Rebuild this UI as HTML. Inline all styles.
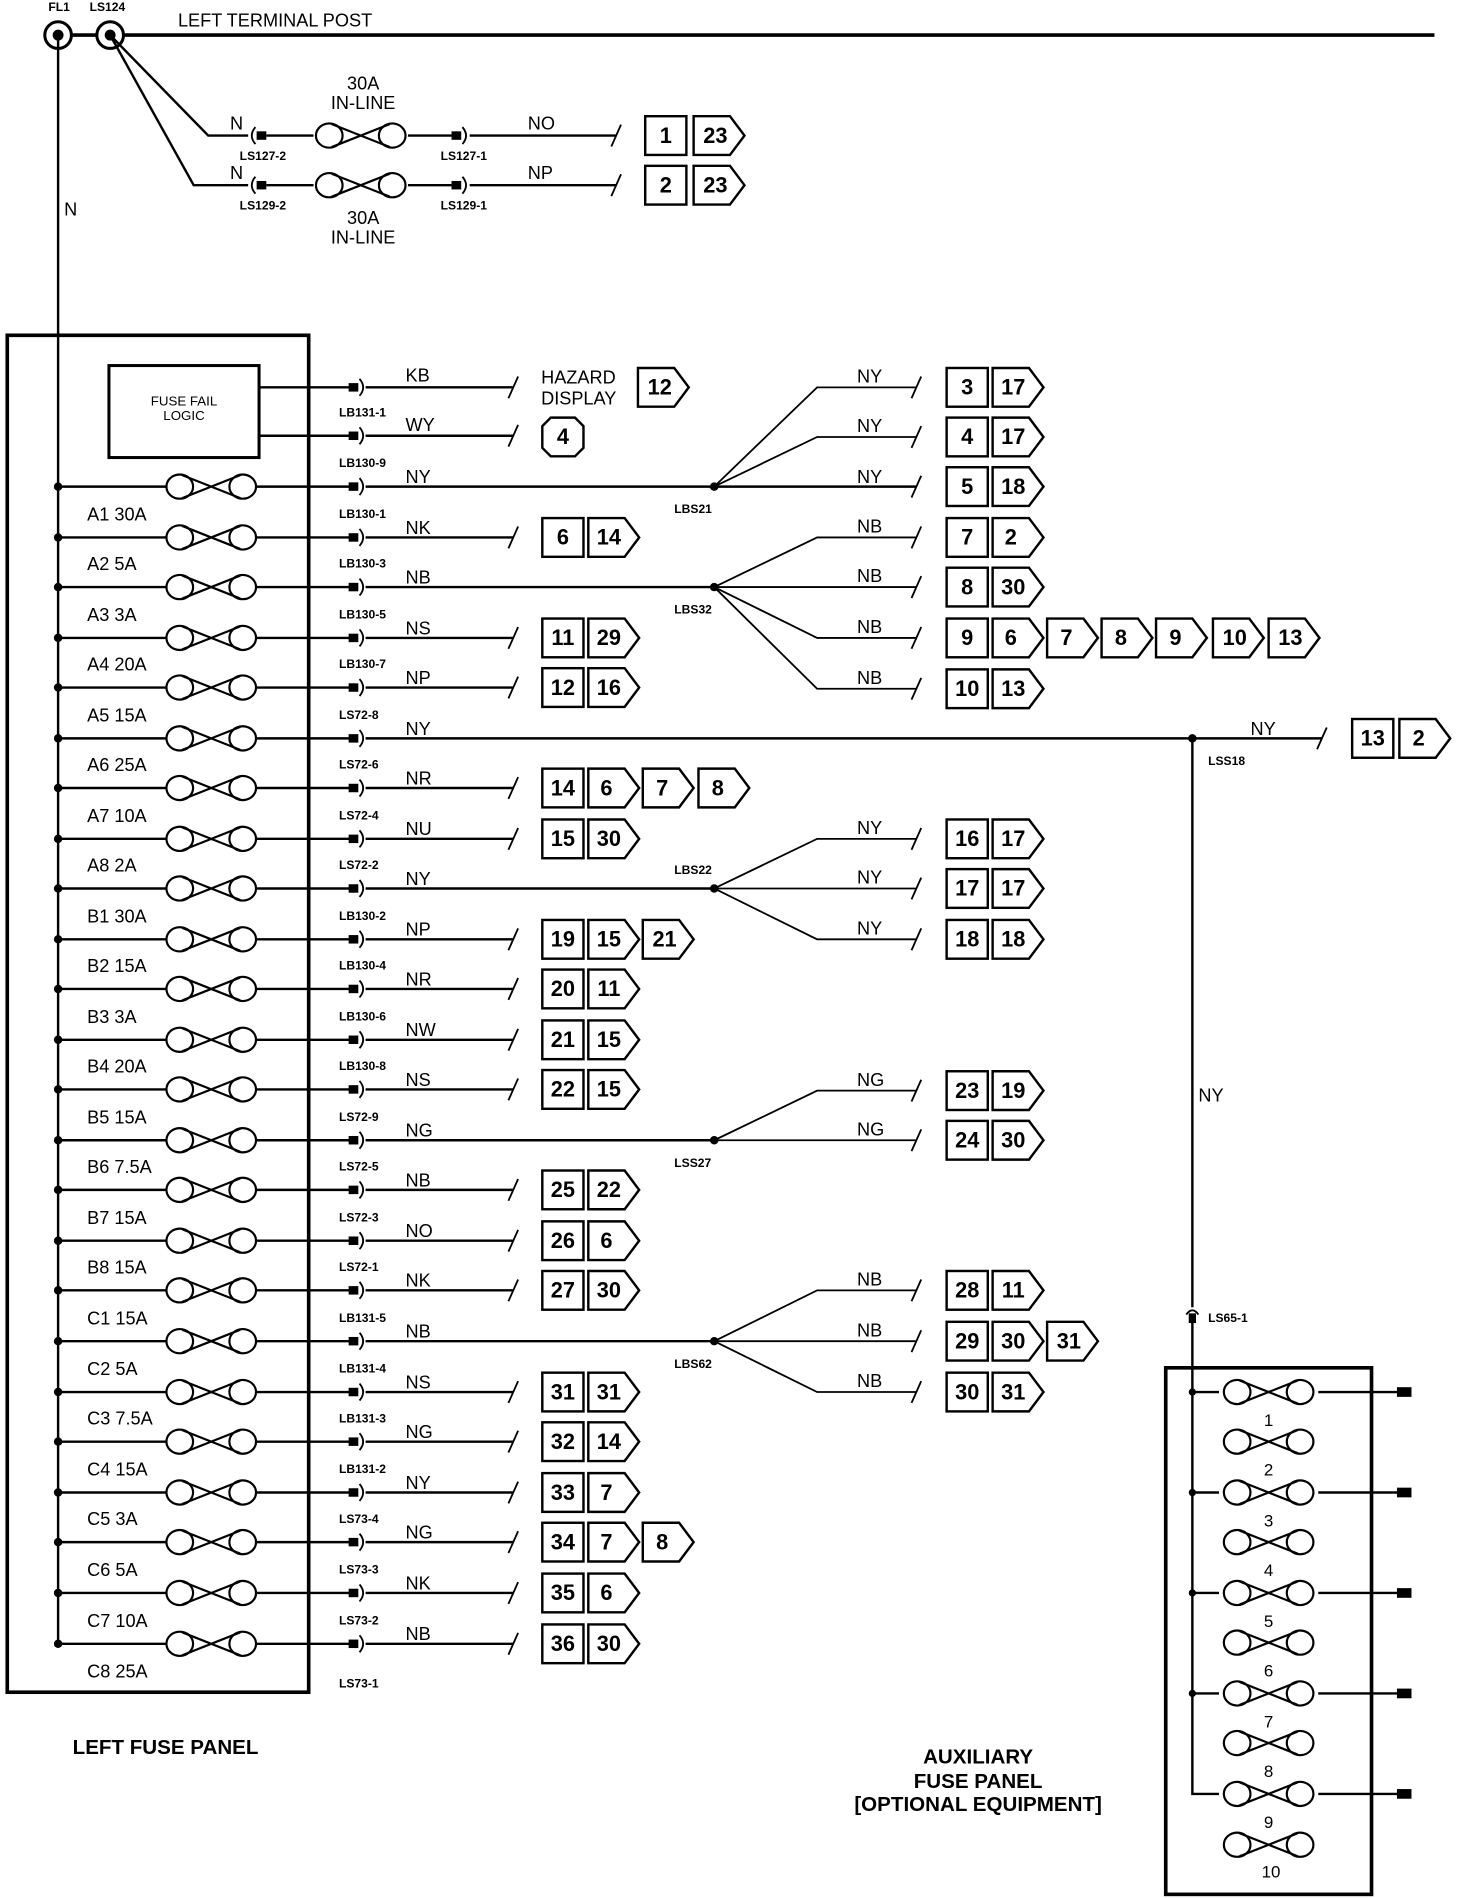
<!DOCTYPE html>
<html><head><meta charset="utf-8"><style>
html,body{margin:0;padding:0;background:#fff}
svg{display:block}
text{font-family:"Liberation Sans",sans-serif;fill:#000}
.w{font-size:15px}
.c{font-size:10px;font-weight:bold}
.b{font-size:18px;font-weight:bold;text-anchor:middle}
.l{font-size:15px}
</style></head><body>
<svg width="1472" height="1898" viewBox="0 0 1216 1568" preserveAspectRatio="none" xmlns="http://www.w3.org/2000/svg">
<defs>
<g id="f" fill="none" stroke="#000" stroke-width="1.8"><ellipse cx="-26" cy="0" rx="11" ry="10"/><ellipse cx="26" cy="0" rx="11" ry="10"/><path d="M-24,-9.5L24,9.5M-24,9.5L24,-9.5"/></g>
<g id="r" stroke="#000" stroke-width="2"><circle cx="48" cy="0" r="2.5" fill="#000"/><line x1="48" y1="0" x2="137" y2="0"/><use href="#f" x="174.5"/><line x1="212" y1="0" x2="289" y2="0"/><rect x="288" y="-3.5" width="8" height="7" fill="#000" stroke="none"/><path d="M297,-7Q303,0 297,7" fill="none" stroke-width="1.5"/></g>
<path id="a" d="M0,-16h30l12,16l-12,16h-30z" fill="#fff" stroke="#000" stroke-width="2"/>
<rect id="s" x="0" y="-16" width="34" height="32" fill="#fff" stroke="#000" stroke-width="2"/>
<path id="sl" d="M-4,9L4,-9" stroke="#000" stroke-width="1.5"/>
<g id="af" stroke="#000" stroke-width="2"><use href="#f" x="1048"/></g>
</defs>

<text x="40" y="9" class="c">FL1</text><text x="74" y="9" class="c">LS124</text>
<text x="147" y="22" class="l">LEFT TERMINAL POST</text>
<circle cx="48" cy="29" r="11" fill="none" stroke="#000" stroke-width="2.5"/><circle cx="48" cy="29" r="4.5"/>
<circle cx="91" cy="29" r="11" fill="none" stroke="#000" stroke-width="2.5"/><circle cx="91" cy="29" r="4.5"/>
<g stroke="#000" fill="none">
<line x1="59" y1="29" x2="80" y2="29" stroke-width="3"/>
<line x1="102" y1="29" x2="1185" y2="29" stroke-width="3"/>
<line x1="48" y1="29" x2="48" y2="1358" stroke-width="2"/>
<polyline points="91,29 172,112 205,112" stroke-width="2"/>
<polyline points="91,29 160,153 205,153" stroke-width="2"/>
</g>
<text x="53" y="178" class="w">N</text>
<g transform="translate(0,112)">
<path d="M211,-7Q205,0 211,7" fill="none" stroke="#000" stroke-width="1.5"/><rect x="212" y="-3.5" width="8" height="7"/>
<line x1="220" y1="0" x2="259" y2="0" stroke="#000" stroke-width="2"/><use href="#f" x="298"/>
<line x1="337" y1="0" x2="373" y2="0" stroke="#000" stroke-width="2"/><rect x="373" y="-3.5" width="8" height="7"/>
<path d="M382,-7Q388,0 382,7" fill="none" stroke="#000" stroke-width="1.5"/>
<line x1="388" y1="0" x2="509" y2="0" stroke="#000" stroke-width="2"/><use href="#sl" x="509"/>
<text x="190" y="-5" class="w">N</text><text x="436" y="-5" class="w">NO</text>
<text x="198" y="20" class="c">LS127-2</text><text x="364" y="20" class="c">LS127-1</text>
<use href="#s" x="533"/><text x="550" y="6" class="b">1</text><use href="#a" x="573"/><text x="591" y="6" class="b">23</text>
</g>
<g transform="translate(0,153)">
<path d="M211,-7Q205,0 211,7" fill="none" stroke="#000" stroke-width="1.5"/><rect x="212" y="-3.5" width="8" height="7"/>
<line x1="220" y1="0" x2="259" y2="0" stroke="#000" stroke-width="2"/><use href="#f" x="298"/>
<line x1="337" y1="0" x2="373" y2="0" stroke="#000" stroke-width="2"/><rect x="373" y="-3.5" width="8" height="7"/>
<path d="M382,-7Q388,0 382,7" fill="none" stroke="#000" stroke-width="1.5"/>
<line x1="388" y1="0" x2="509" y2="0" stroke="#000" stroke-width="2"/><use href="#sl" x="509"/>
<text x="190" y="-5" class="w">N</text><text x="436" y="-5" class="w">NP</text>
<text x="198" y="20" class="c">LS129-2</text><text x="364" y="20" class="c">LS129-1</text>
<use href="#s" x="533"/><text x="550" y="6" class="b">2</text><use href="#a" x="573"/><text x="591" y="6" class="b">23</text>
</g>
<text x="300" y="74" class="l" text-anchor="middle">30A</text><text x="300" y="90" class="l" text-anchor="middle">IN-LINE</text>
<text x="300" y="185" class="l" text-anchor="middle">30A</text><text x="300" y="201" class="l" text-anchor="middle">IN-LINE</text>

<rect x="6" y="277" width="249" height="1121" fill="none" stroke="#000" stroke-width="3"/>
<rect x="90" y="302" width="124" height="76" fill="none" stroke="#000" stroke-width="2.5"/>
<text x="152" y="335" font-size="11" text-anchor="middle">FUSE FAIL</text><text x="152" y="347" font-size="11" text-anchor="middle">LOGIC</text>
<g stroke="#000" stroke-width="2" fill="none">
<line x1="214" y1="320" x2="289" y2="320"/><line x1="214" y1="360" x2="289" y2="360"/>
<line x1="302" y1="320" x2="424" y2="320"/><line x1="302" y1="360" x2="424" y2="360"/>
</g>
<rect x="288" y="316.5" width="8" height="7"/><path d="M297,313Q303,320 297,327" fill="none" stroke="#000" stroke-width="1.5"/>
<rect x="288" y="356.5" width="8" height="7"/><path d="M297,353Q303,360 297,367" fill="none" stroke="#000" stroke-width="1.5"/>
<use href="#sl" x="424" y="320"/><use href="#sl" x="424" y="360"/>
<text x="335" y="315" class="w">KB</text><text x="335" y="356" class="w">WY</text>
<text x="280" y="344" class="c">LB131-1</text>
<text x="447" y="317" class="l">HAZARD</text><text x="447" y="334" class="l">DISPLAY</text>
<use href="#a" x="527" y="320"/><text x="545" y="326" class="b">12</text>
<path d="M455,345h20l7,7v18l-7,7h-20l-7,-7v-18z" fill="none" stroke="#000" stroke-width="2"/><text x="465" y="367" class="b">4</text>

<g transform="translate(0,402)"><use href="#r"/><text x="280" y="-16" class="c">LB130-9</text><text x="335" y="-3" class="w">NY</text>
<line x1="302" y1="0" x2="757" y2="0" stroke="#000" stroke-width="2"/><circle cx="590" cy="0" r="3.5"/><text x="557" y="22" class="c">LBS21</text>
<polyline points="590,0 675,-82 757,-82" fill="none" stroke="#000" stroke-width="1.5"/><polyline points="590,0 675,-41 757,-41" fill="none" stroke="#000" stroke-width="1.5"/>
<use href="#sl" x="757" y="-82"/><use href="#sl" x="757" y="-41"/><use href="#sl" x="757"/>
<text x="708" y="-86" class="w">NY</text><text x="708" y="-45" class="w">NY</text><text x="708" y="-3" class="w">NY</text>
<use href="#s" x="782" y="-82"/><text x="799" y="-76" class="b">3</text><use href="#a" x="820" y="-82"/><text x="837" y="-76" class="b">17</text>
<use href="#s" x="782" y="-41"/><text x="799" y="-35" class="b">4</text><use href="#a" x="820" y="-41"/><text x="837" y="-35" class="b">17</text>
<use href="#s" x="782"/><text x="799" y="6" class="b">5</text><use href="#a" x="820"/><text x="837" y="6" class="b">18</text>
</g>
<g transform="translate(0,444)"><use href="#r"/><text x="72" y="-14" class="l">A1 30A</text><text x="280" y="-16" class="c">LB130-1</text><text x="335" y="-3" class="w">NK</text>
<line x1="302" y1="0" x2="424" y2="0" stroke="#000" stroke-width="2"/><use href="#sl" x="424"/>
<use href="#s" x="448"/><text x="465" y="6" class="b">6</text><use href="#a" x="486"/><text x="503" y="6" class="b">14</text></g>
<g transform="translate(0,485)"><use href="#r"/><text x="72" y="-14" class="l">A2 5A</text><text x="280" y="-16" class="c">LB130-3</text><text x="335" y="-3" class="w">NB</text>
<line x1="302" y1="0" x2="590" y2="0" stroke="#000" stroke-width="2"/><circle cx="590" cy="0" r="3.5"/><text x="557" y="22" class="c">LBS32</text>
<g fill="none" stroke="#000" stroke-width="1.5"><polyline points="590,0 675,-41 757,-41"/><polyline points="590,0 675,0 757,0"/><polyline points="590,0 675,42 757,42"/><polyline points="590,0 675,84 757,84"/></g>
<use href="#sl" x="757" y="-41"/><use href="#sl" x="757"/><use href="#sl" x="757" y="42"/><use href="#sl" x="757" y="84"/>
<text x="708" y="-45" class="w">NB</text><text x="708" y="-4" class="w">NB</text><text x="708" y="38" class="w">NB</text><text x="708" y="80" class="w">NB</text>
<use href="#s" x="782" y="-41"/><text x="799" y="-35" class="b">7</text><use href="#a" x="820" y="-41"/><text x="835" y="-35" class="b">2</text>
<use href="#s" x="782"/><text x="799" y="6" class="b">8</text><use href="#a" x="820"/><text x="837" y="6" class="b">30</text>
<use href="#s" x="782" y="42"/><text x="799" y="48" class="b">9</text><use href="#a" x="820" y="42"/><text x="835" y="48" class="b">6</text>
<use href="#a" x="865" y="42"/><text x="881" y="48" class="b">7</text><use href="#a" x="910" y="42"/><text x="926" y="48" class="b">8</text>
<use href="#a" x="955" y="42"/><text x="971" y="48" class="b">9</text><use href="#a" x="1002" y="42"/><text x="1020" y="48" class="b">10</text>
<use href="#a" x="1048" y="42"/><text x="1066" y="48" class="b">13</text>
<use href="#s" x="782" y="84"/><text x="799" y="90" class="b">10</text><use href="#a" x="820" y="84"/><text x="837" y="90" class="b">13</text>
</g>
<g transform="translate(0,527)"><use href="#r"/><text x="72" y="-14" class="l">A3 3A</text><text x="280" y="-16" class="c">LB130-5</text><text x="335" y="-3" class="w">NS</text>
<line x1="302" y1="0" x2="424" y2="0" stroke="#000" stroke-width="2"/><use href="#sl" x="424"/>
<use href="#s" x="448"/><text x="465" y="6" class="b">11</text><use href="#a" x="486"/><text x="503" y="6" class="b">29</text></g>
<g transform="translate(0,568)"><use href="#r"/><text x="72" y="-14" class="l">A4 20A</text><text x="280" y="-16" class="c">LB130-7</text><text x="335" y="-3" class="w">NP</text>
<line x1="302" y1="0" x2="424" y2="0" stroke="#000" stroke-width="2"/><use href="#sl" x="424"/>
<use href="#s" x="448"/><text x="465" y="6" class="b">12</text><use href="#a" x="486"/><text x="503" y="6" class="b">16</text></g>
<g transform="translate(0,610)"><use href="#r"/><text x="72" y="-14" class="l">A5 15A</text><text x="280" y="-16" class="c">LS72-8</text><text x="335" y="-3" class="w">NY</text>
<line x1="302" y1="0" x2="1092" y2="0" stroke="#000" stroke-width="2"/><use href="#sl" x="1092"/><circle cx="985" cy="0" r="3.5"/><text x="998" y="22" class="c">LSS18</text>
<text x="1033" y="-3" class="w">NY</text>
<use href="#s" x="1117"/><text x="1134" y="6" class="b">13</text><use href="#a" x="1156"/><text x="1172" y="6" class="b">2</text></g>
<g transform="translate(0,651)"><use href="#r"/><text x="72" y="-14" class="l">A6 25A</text><text x="280" y="-16" class="c">LS72-6</text><text x="335" y="-3" class="w">NR</text>
<line x1="302" y1="0" x2="424" y2="0" stroke="#000" stroke-width="2"/><use href="#sl" x="424"/>
<use href="#s" x="448"/><text x="465" y="6" class="b">14</text><use href="#a" x="486"/><text x="501" y="6" class="b">6</text>
<use href="#a" x="531"/><text x="547" y="6" class="b">7</text><use href="#a" x="577"/><text x="593" y="6" class="b">8</text></g>
<g transform="translate(0,693)"><use href="#r"/><text x="72" y="-14" class="l">A7 10A</text><text x="280" y="-16" class="c">LS72-4</text><text x="335" y="-3" class="w">NU</text>
<line x1="302" y1="0" x2="424" y2="0" stroke="#000" stroke-width="2"/><use href="#sl" x="424"/>
<use href="#s" x="448"/><text x="465" y="6" class="b">15</text><use href="#a" x="486"/><text x="503" y="6" class="b">30</text></g>
<g transform="translate(0,734)"><use href="#r"/><text x="72" y="-14" class="l">A8 2A</text><text x="280" y="-16" class="c">LS72-2</text><text x="335" y="-3" class="w">NY</text>
<line x1="302" y1="0" x2="590" y2="0" stroke="#000" stroke-width="2"/><circle cx="590" cy="0" r="3.5"/><text x="557" y="-12" class="c">LBS22</text>
<g fill="none" stroke="#000" stroke-width="1.5"><polyline points="590,0 675,-41 757,-41"/><polyline points="590,0 757,0"/><polyline points="590,0 675,42 757,42"/></g>
<use href="#sl" x="757" y="-41"/><use href="#sl" x="757"/><use href="#sl" x="757" y="42"/>
<text x="708" y="-45" class="w">NY</text><text x="708" y="-4" class="w">NY</text><text x="708" y="38" class="w">NY</text>
<use href="#s" x="782" y="-41"/><text x="799" y="-35" class="b">16</text><use href="#a" x="820" y="-41"/><text x="837" y="-35" class="b">17</text>
<use href="#s" x="782"/><text x="799" y="6" class="b">17</text><use href="#a" x="820"/><text x="837" y="6" class="b">17</text>
<use href="#s" x="782" y="42"/><text x="799" y="48" class="b">18</text><use href="#a" x="820" y="42"/><text x="837" y="48" class="b">18</text>
</g>
<g transform="translate(0,776)"><use href="#r"/><text x="72" y="-14" class="l">B1 30A</text><text x="280" y="-16" class="c">LB130-2</text><text x="335" y="-3" class="w">NP</text>
<line x1="302" y1="0" x2="424" y2="0" stroke="#000" stroke-width="2"/><use href="#sl" x="424"/>
<use href="#s" x="448"/><text x="465" y="6" class="b">19</text><use href="#a" x="486"/><text x="503" y="6" class="b">15</text>
<use href="#a" x="531"/><text x="549" y="6" class="b">21</text></g>
<g transform="translate(0,817)"><use href="#r"/><text x="72" y="-14" class="l">B2 15A</text><text x="280" y="-16" class="c">LB130-4</text><text x="335" y="-3" class="w">NR</text>
<line x1="302" y1="0" x2="424" y2="0" stroke="#000" stroke-width="2"/><use href="#sl" x="424"/>
<use href="#s" x="448"/><text x="465" y="6" class="b">20</text><use href="#a" x="486"/><text x="503" y="6" class="b">11</text></g>
<g transform="translate(0,859)"><use href="#r"/><text x="72" y="-14" class="l">B3 3A</text><text x="280" y="-16" class="c">LB130-6</text><text x="335" y="-3" class="w">NW</text>
<line x1="302" y1="0" x2="424" y2="0" stroke="#000" stroke-width="2"/><use href="#sl" x="424"/>
<use href="#s" x="448"/><text x="465" y="6" class="b">21</text><use href="#a" x="486"/><text x="503" y="6" class="b">15</text></g>
<g transform="translate(0,900)"><use href="#r"/><text x="72" y="-14" class="l">B4 20A</text><text x="280" y="-16" class="c">LB130-8</text><text x="335" y="-3" class="w">NS</text>
<line x1="302" y1="0" x2="424" y2="0" stroke="#000" stroke-width="2"/><use href="#sl" x="424"/>
<use href="#s" x="448"/><text x="465" y="6" class="b">22</text><use href="#a" x="486"/><text x="503" y="6" class="b">15</text></g>
<g transform="translate(0,942)"><use href="#r"/><text x="72" y="-14" class="l">B5 15A</text><text x="280" y="-16" class="c">LS72-9</text><text x="335" y="-3" class="w">NG</text>
<line x1="302" y1="0" x2="590" y2="0" stroke="#000" stroke-width="2"/><circle cx="590" cy="0" r="3.5"/><text x="557" y="22" class="c">LSS27</text>
<g fill="none" stroke="#000" stroke-width="1.5"><polyline points="590,0 675,-41 757,-41"/><polyline points="590,0 757,0"/></g>
<use href="#sl" x="757" y="-41"/><use href="#sl" x="757"/>
<text x="708" y="-45" class="w">NG</text><text x="708" y="-4" class="w">NG</text>
<use href="#s" x="782" y="-41"/><text x="799" y="-35" class="b">23</text><use href="#a" x="820" y="-41"/><text x="837" y="-35" class="b">19</text>
<use href="#s" x="782"/><text x="799" y="6" class="b">24</text><use href="#a" x="820"/><text x="837" y="6" class="b">30</text>
</g>
<g transform="translate(0,983)"><use href="#r"/><text x="72" y="-14" class="l">B6 7.5A</text><text x="280" y="-16" class="c">LS72-5</text><text x="335" y="-3" class="w">NB</text>
<line x1="302" y1="0" x2="424" y2="0" stroke="#000" stroke-width="2"/><use href="#sl" x="424"/>
<use href="#s" x="448"/><text x="465" y="6" class="b">25</text><use href="#a" x="486"/><text x="503" y="6" class="b">22</text></g>
<g transform="translate(0,1025)"><use href="#r"/><text x="72" y="-14" class="l">B7 15A</text><text x="280" y="-16" class="c">LS72-3</text><text x="335" y="-3" class="w">NO</text>
<line x1="302" y1="0" x2="424" y2="0" stroke="#000" stroke-width="2"/><use href="#sl" x="424"/>
<use href="#s" x="448"/><text x="465" y="6" class="b">26</text><use href="#a" x="486"/><text x="501" y="6" class="b">6</text></g>
<g transform="translate(0,1066)"><use href="#r"/><text x="72" y="-14" class="l">B8 15A</text><text x="280" y="-16" class="c">LS72-1</text><text x="335" y="-3" class="w">NK</text>
<line x1="302" y1="0" x2="424" y2="0" stroke="#000" stroke-width="2"/><use href="#sl" x="424"/>
<use href="#s" x="448"/><text x="465" y="6" class="b">27</text><use href="#a" x="486"/><text x="503" y="6" class="b">30</text></g>
<g transform="translate(0,1108)"><use href="#r"/><text x="72" y="-14" class="l">C1 15A</text><text x="280" y="-16" class="c">LB131-5</text><text x="335" y="-3" class="w">NB</text>
<line x1="302" y1="0" x2="590" y2="0" stroke="#000" stroke-width="2"/><circle cx="590" cy="0" r="3.5"/><text x="557" y="22" class="c">LBS62</text>
<g fill="none" stroke="#000" stroke-width="1.5"><polyline points="590,0 675,-42 757,-42"/><polyline points="590,0 757,0"/><polyline points="590,0 675,42 757,42"/></g>
<use href="#sl" x="757" y="-42"/><use href="#sl" x="757"/><use href="#sl" x="757" y="42"/>
<text x="708" y="-46" class="w">NB</text><text x="708" y="-4" class="w">NB</text><text x="708" y="38" class="w">NB</text>
<use href="#s" x="782" y="-42"/><text x="799" y="-36" class="b">28</text><use href="#a" x="820" y="-42"/><text x="837" y="-36" class="b">11</text>
<use href="#s" x="782"/><text x="799" y="6" class="b">29</text><use href="#a" x="820"/><text x="837" y="6" class="b">30</text>
<use href="#a" x="865"/><text x="883" y="6" class="b">31</text>
<use href="#s" x="782" y="42"/><text x="799" y="48" class="b">30</text><use href="#a" x="820" y="42"/><text x="837" y="48" class="b">31</text>
</g>
<g transform="translate(0,1150)"><use href="#r"/><text x="72" y="-14" class="l">C2 5A</text><text x="280" y="-16" class="c">LB131-4</text><text x="335" y="-3" class="w">NS</text>
<line x1="302" y1="0" x2="424" y2="0" stroke="#000" stroke-width="2"/><use href="#sl" x="424"/>
<use href="#s" x="448"/><text x="465" y="6" class="b">31</text><use href="#a" x="486"/><text x="503" y="6" class="b">31</text></g>
<g transform="translate(0,1191)"><use href="#r"/><text x="72" y="-14" class="l">C3 7.5A</text><text x="280" y="-16" class="c">LB131-3</text><text x="335" y="-3" class="w">NG</text>
<line x1="302" y1="0" x2="424" y2="0" stroke="#000" stroke-width="2"/><use href="#sl" x="424"/>
<use href="#s" x="448"/><text x="465" y="6" class="b">32</text><use href="#a" x="486"/><text x="503" y="6" class="b">14</text></g>
<g transform="translate(0,1233)"><use href="#r"/><text x="72" y="-14" class="l">C4 15A</text><text x="280" y="-16" class="c">LB131-2</text><text x="335" y="-3" class="w">NY</text>
<line x1="302" y1="0" x2="424" y2="0" stroke="#000" stroke-width="2"/><use href="#sl" x="424"/>
<use href="#s" x="448"/><text x="465" y="6" class="b">33</text><use href="#a" x="486"/><text x="501" y="6" class="b">7</text></g>
<g transform="translate(0,1274)"><use href="#r"/><text x="72" y="-14" class="l">C5 3A</text><text x="280" y="-16" class="c">LS73-4</text><text x="335" y="-3" class="w">NG</text>
<line x1="302" y1="0" x2="424" y2="0" stroke="#000" stroke-width="2"/><use href="#sl" x="424"/>
<use href="#s" x="448"/><text x="465" y="6" class="b">34</text><use href="#a" x="486"/><text x="501" y="6" class="b">7</text>
<use href="#a" x="531"/><text x="547" y="6" class="b">8</text></g>
<g transform="translate(0,1316)"><use href="#r"/><text x="72" y="-14" class="l">C6 5A</text><text x="280" y="-16" class="c">LS73-3</text><text x="335" y="-3" class="w">NK</text>
<line x1="302" y1="0" x2="424" y2="0" stroke="#000" stroke-width="2"/><use href="#sl" x="424"/>
<use href="#s" x="448"/><text x="465" y="6" class="b">35</text><use href="#a" x="486"/><text x="501" y="6" class="b">6</text></g>
<g transform="translate(0,1358)"><use href="#r"/><text x="72" y="-14" class="l">C7 10A</text><text x="280" y="-16" class="c">LS73-2</text><text x="335" y="-3" class="w">NB</text>
<line x1="302" y1="0" x2="424" y2="0" stroke="#000" stroke-width="2"/><use href="#sl" x="424"/>
<use href="#s" x="448"/><text x="465" y="6" class="b">36</text><use href="#a" x="486"/><text x="503" y="6" class="b">30</text>
<text x="72" y="28" class="l">C8 25A</text><text x="280" y="36" class="c">LS73-1</text></g>

<text x="60" y="1449" font-size="17" font-weight="bold">LEFT FUSE PANEL</text>

<line x1="985" y1="610" x2="985" y2="1080" stroke="#000" stroke-width="2"/>
<text x="990" y="910" class="w">NY</text>
<path d="M980,1086Q985,1079 990,1086" fill="none" stroke="#000" stroke-width="1.5"/><rect x="982" y="1085" width="6" height="8"/>
<text x="998" y="1092" class="c">LS65-1</text>
<rect x="963" y="1130" width="170" height="435" fill="none" stroke="#000" stroke-width="3"/>
<polyline points="985,1093 985,1482 1007,1482" fill="none" stroke="#000" stroke-width="2"/>
<g stroke="#000" stroke-width="2">
<use href="#af" y="1150"/><use href="#af" y="1191"/><use href="#af" y="1233"/><use href="#af" y="1274"/><use href="#af" y="1316"/>
<use href="#af" y="1357"/><use href="#af" y="1399"/><use href="#af" y="1440"/><use href="#af" y="1482"/><use href="#af" y="1524"/>
<line x1="985" y1="1150" x2="1007" y2="1150"/><line x1="1089" y1="1150" x2="1155" y2="1150"/>
<line x1="985" y1="1233" x2="1007" y2="1233"/><line x1="1089" y1="1233" x2="1155" y2="1233"/>
<line x1="985" y1="1316" x2="1007" y2="1316"/><line x1="1089" y1="1316" x2="1155" y2="1316"/>
<line x1="985" y1="1399" x2="1007" y2="1399"/><line x1="1089" y1="1399" x2="1155" y2="1399"/>
<line x1="1089" y1="1482" x2="1155" y2="1482"/>
</g>
<circle cx="985" cy="1150" r="3"/><circle cx="985" cy="1233" r="3"/><circle cx="985" cy="1316" r="3"/><circle cx="985" cy="1399" r="3"/>
<rect x="1154" y="1146" width="12" height="8"/><rect x="1154" y="1229" width="12" height="8"/><rect x="1154" y="1312" width="12" height="8"/><rect x="1154" y="1395" width="12" height="8"/><rect x="1154" y="1478" width="12" height="8"/>
<g font-size="14" text-anchor="middle">
<text x="1048" y="1178">1</text><text x="1048" y="1219">2</text><text x="1048" y="1261">3</text><text x="1048" y="1302">4</text><text x="1048" y="1344">5</text>
<text x="1048" y="1385">6</text><text x="1048" y="1427">7</text><text x="1048" y="1468">8</text><text x="1048" y="1510">9</text><text x="1050" y="1551">10</text>
</g>
<g font-size="17" font-weight="bold" text-anchor="middle">
<text x="808" y="1457">AUXILIARY</text><text x="808" y="1477">FUSE PANEL</text><text x="808" y="1496">[OPTIONAL EQUIPMENT]</text>
</g>
</svg>
</body></html>
